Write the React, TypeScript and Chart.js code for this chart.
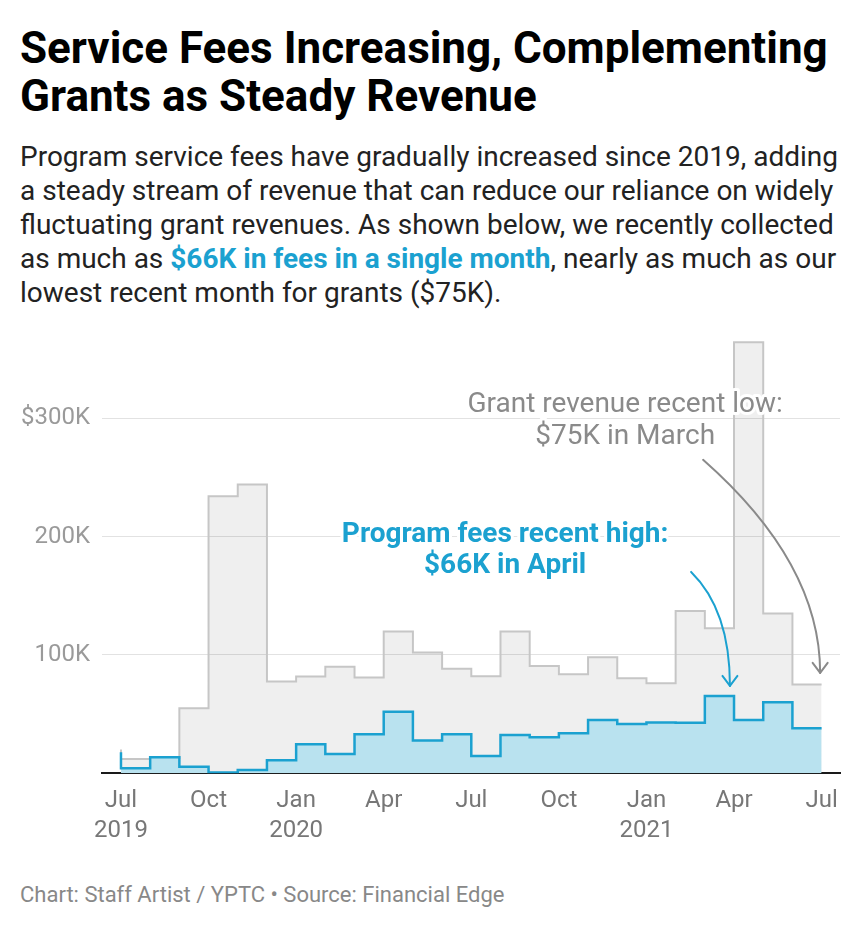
import React, { useEffect, useRef } from "react";
import { Chart, registerables } from "chart.js";

Chart.register(...registerables);

// Month points (stepped: value at each point covers the month that ends there)
const months = [
  "Jul 2019", "Aug 2019", "Sep 2019", "Oct 2019", "Nov 2019", "Dec 2019",
  "Jan 2020", "Feb 2020", "Mar 2020", "Apr 2020", "May 2020", "Jun 2020",
  "Jul 2020", "Aug 2020", "Sep 2020", "Oct 2020", "Nov 2020", "Dec 2020",
  "Jan 2021", "Feb 2021", "Mar 2021", "Apr 2021", "May 2021", "Jun 2021", "Jul 2021",
];

// Values in $K
const grantRevenue = [
  20, 12, 13, 55, 234, 244, 77.5, 81.7, 90, 81, 119.7, 102, 88.4,
  82, 119.7, 90.7, 83.7, 98, 80.3, 76, 137, 122.5, 364, 135, 75,
];
const programFees = [
  17.7, 4.2, 13.5, 5.6, 0.7, 2.8, 11, 24.5, 16.3, 33, 52, 27.6, 33,
  14.6, 32.4, 30.4, 33.8, 45, 41.7, 43, 42.8, 65.3, 45, 60, 38,
];

const xTickMonths = [0, 3, 6, 9, 12, 15, 18, 21, 24];
const xTickLabels = [
  ["Jul", "2019"], ["Oct"], ["Jan", "2020"], ["Apr"], ["Jul"], ["Oct"],
  ["Jan", "2021"], ["Apr"], ["Jul"],
];
const yTickValues = [100, 200, 300];
const yTickLabels = ["100K", "200K", "$300K"];

const BLUE = "#1ba1d0";
const BLUE_FILL = "#b9e2ef";
const GREY_LINE = "#c6c6c6";
const GREY_FILL = "rgba(0,0,0,0.063)";

const annotationPlugin = {
  id: "annotations",
  afterDatasetsDraw(chart: any) {
    const { ctx, scales } = chart;
    const x = scales.x;
    const y = scales.y;
    const px = (v: number) => x.getPixelForValue(v);
    const py = (v: number) => y.getPixelForValue(v);

    const haloText = (text: string, cx: number, cy: number, font: string, color: string) => {
      ctx.save();
      ctx.font = font;
      ctx.textAlign = "center";
      ctx.textBaseline = "middle";
      ctx.lineJoin = "round";
      ctx.strokeStyle = "#ffffff";
      ctx.lineWidth = 6;
      ctx.strokeText(text, cx, cy);
      ctx.fillStyle = color;
      ctx.fillText(text, cx, cy);
      ctx.restore();
    };

    const arrow = (
      s: [number, number], c: [number, number], e: [number, number], color: string
    ) => {
      const sx = px(s[0]), sy = py(s[1]);
      const cx = px(c[0]), cy = py(c[1]);
      const ex = px(e[0]), ey = py(e[1]);
      ctx.save();
      ctx.strokeStyle = color;
      ctx.lineWidth = 2;
      ctx.lineCap = "round";
      ctx.lineJoin = "round";
      ctx.beginPath();
      ctx.moveTo(sx, sy);
      ctx.quadraticCurveTo(cx, cy, ex, ey);
      ctx.stroke();
      ctx.beginPath();
      ctx.moveTo(ex - 7.5, ey - 10);
      ctx.lineTo(ex, ey);
      ctx.lineTo(ex + 7.5, ey - 10);
      ctx.stroke();
      ctx.restore();
    };

    // Grant annotation
    haloText("Grant revenue recent low:", px(17.27), py(311.3), "28px Roboto", "#8a8a8a");
    haloText("$75K in March", px(17.27), py(284.3), "28px Roboto", "#8a8a8a");
    arrow([19.94, 264.8], [23.95, 177.7], [23.95, 84.8], "#8a8a8a");

    // Fees annotation
    haloText("Program fees recent high:", px(13.16), py(201.4), "bold 28px Roboto", BLUE);
    haloText("$66K in April", px(13.16), py(175.2), "bold 28px Roboto", BLUE);
    arrow([19.53, 170.1], [20.86, 138], [20.86, 73.8], BLUE);
  },
};

function ChartCanvas() {
  const ref = useRef<HTMLCanvasElement | null>(null);
  useEffect(() => {
    if (!ref.current) return;
    const chart = new Chart(ref.current, {
      type: "line",
      data: {
        datasets: [
          {
            label: "Program fees",
            data: programFees.map((v, i) => ({ x: i, y: v })),
            stepped: "after",
            borderColor: BLUE,
            backgroundColor: BLUE_FILL,
            borderWidth: 2.5,
            fill: "origin",
            pointRadius: 0,
          },
          {
            label: "Grant revenue",
            data: grantRevenue.map((v, i) => ({ x: i, y: v })),
            stepped: "after",
            borderColor: GREY_LINE,
            backgroundColor: GREY_FILL,
            borderWidth: 2,
            fill: "origin",
            pointRadius: 0,
          },
        ],
      },
      options: {
        animation: false,
        responsive: false,
        maintainAspectRatio: false,
        layout: { padding: { top: 20, right: 24, left: 0, bottom: 0 } },
        plugins: { legend: { display: false }, tooltip: { enabled: false } },
        scales: {
          x: {
            type: "linear",
            min: -0.65,
            max: 24.63,
            afterBuildTicks: (scale: any) => {
              scale.ticks = xTickMonths.map((v) => ({ value: v }));
            },
            afterFit: (scale: any) => {
              scale.height = 86.7;
              scale.paddingLeft = 0;
              scale.paddingRight = 0;
            },
            grid: { display: false, drawTicks: false },
            border: { display: true, color: "#1a1a1a", width: 2 },
            ticks: {
              autoSkip: false,
              maxRotation: 0,
              padding: 13,
              color: "#777777",
              font: { family: "Roboto", size: 24, lineHeight: "30px" },
              callback: (_v: any, i: number) => xTickLabels[i],
            },
          },
          y: {
            min: 0,
            max: 366,
            afterBuildTicks: (scale: any) => {
              scale.ticks = yTickValues.map((v) => ({ value: v }));
            },
            afterFit: (scale: any) => {
              scale.width = 102;
              scale.paddingTop = 0;
              scale.paddingBottom = 0;
            },
            grid: { color: "#e2e2e2", lineWidth: 1, drawTicks: false },
            border: { display: false },
            ticks: {
              padding: 12,
              color: "#9a9a9a",
              font: { family: "Roboto", size: 24 },
              callback: (_v: any, i: number) => yTickLabels[i],
            },
          },
        },
      },
      plugins: [annotationPlugin],
    } as any);
    return () => chart.destroy();
  }, []);
  return (
    <canvas
      ref={ref}
      width={864}
      height={540}
      style={{ position: "absolute", left: 0, top: 320, width: 864, height: 540 }}
    />
  );
}

export default function App() {
  return (
    <div
      style={{
        position: "absolute",
        left: 0,
        top: 0,
        width: 864,
        height: 930,
        background: "#ffffff",
        fontFamily: "Roboto, sans-serif",
        overflow: "hidden",
      }}
    >
      <div
        style={{
          position: "absolute",
          left: 20,
          top: 24,
          fontSize: 44,
          lineHeight: "48px",
          fontWeight: 700,
          color: "#000000",
          whiteSpace: "nowrap",
        }}
      >
        Service Fees Increasing, Complementing
        <br />
        Grants as Steady Revenue
      </div>
      <div
        style={{
          position: "absolute",
          left: 20,
          top: 140,
          fontSize: 28,
          lineHeight: "34px",
          color: "#222222",
          whiteSpace: "nowrap",
        }}
      >
        Program service fees have gradually increased since 2019, adding
        <br />
        a steady stream of revenue that can reduce our reliance on widely
        <br />
        fluctuating grant revenues. As shown below, we recently collected
        <br />
        as much as{" "}
        <span style={{ color: BLUE, fontWeight: 700 }}>$66K in fees in a single month</span>, nearly as much as our
        <br />
        lowest recent month for grants ($75K).
      </div>
      <ChartCanvas />
      <div
        style={{
          position: "absolute",
          left: 20,
          top: 884,
          fontSize: 22,
          lineHeight: "22px",
          color: "#888888",
          whiteSpace: "nowrap",
        }}
      >
        Chart: Staff Artist / YPTC • Source: Financial Edge
      </div>
    </div>
  );
}
